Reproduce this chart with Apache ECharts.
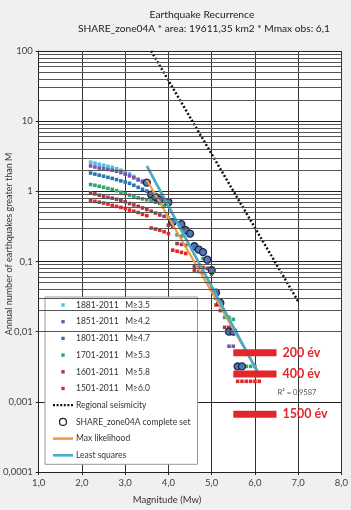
<!DOCTYPE html>
<html>
<head>
<meta charset="utf-8">
<script src="https://cdn.jsdelivr.net/npm/echarts@6/dist/echarts.min.js"></script>
<style>
  html, body { margin: 0; padding: 0; background: #f0f0f0; }
  #chart { width: 351px; height: 510px; }
</style>
</head>
<body>
<div id="chart"></div>
<script>
// magnitude / annual rate pairs
const s1881 = [[2.2,2.6],[2.3,2.52],[2.4,2.43],[2.5,2.35],[2.6,2.27],[2.7,2.2],[2.8,2.1],[2.9,2.0],[3.0,1.9],[3.1,1.78],[3.2,1.63],[3.3,1.5],[3.4,1.42]]
const s1851 = [[2.2,2.3],[2.3,2.22],[2.4,2.15],[2.5,2.1],[2.6,2.05],[2.7,2.0],[2.8,1.93],[2.9,1.85],[3.0,1.76],[3.1,1.66],[3.2,1.56],[3.3,1.45],[3.4,1.36],[4.6,0.17],[4.7,0.15],[5.4,0.0062],[5.5,0.0062]]
const s1801 = [[2.2,1.82],[2.3,1.76],[2.4,1.7],[2.5,1.64],[2.6,1.58],[2.7,1.53],[2.8,1.47],[2.9,1.41],[3.0,1.36],[3.1,1.3],[3.2,1.22],[3.3,1.14],[3.4,1.07],[3.5,1.01],[3.6,0.95],[5.4,0.0095],[5.5,0.0095]]
const s1701 = [[2.2,1.25],[2.3,1.22],[2.4,1.18],[2.5,1.14],[2.6,1.1],[2.7,1.07],[2.8,1.02],[2.9,0.97],[3.0,0.93],[3.1,0.88],[3.2,0.85],[3.3,0.81],[3.4,0.78],[3.5,0.76],[3.6,0.73],[3.7,0.7],[3.8,0.67],[3.9,0.63],[4.0,0.42],[4.1,0.39],[4.2,0.24],[4.3,0.23],[4.8,0.11],[4.9,0.105],[5.0,0.066],[5.1,0.035],[5.3,0.016],[5.4,0.016],[5.5,0.015],[5.6,0.0032],[5.7,0.0032],[5.8,0.0032],[5.9,0.0032],[6.0,0.0032]]
const s1601 = [[2.2,0.95],[2.3,0.92],[2.4,0.88],[2.5,0.85],[2.6,0.82],[2.7,0.8],[2.8,0.77],[2.9,0.74],[3.0,0.71],[3.1,0.67],[3.2,0.64],[3.3,0.61],[3.4,0.58],[3.5,0.55],[3.6,0.52],[3.7,0.49],[3.8,0.46],[3.9,0.44],[4.0,0.33],[4.1,0.31],[4.2,0.18],[4.3,0.175],[4.4,0.17],[4.6,0.085],[4.7,0.083],[4.8,0.082],[4.9,0.08],[5.0,0.041],[5.1,0.03],[5.3,0.0115],[5.4,0.0114]]
const s1501 = [[2.2,0.74],[2.3,0.72],[2.4,0.7],[2.5,0.68],[2.6,0.66],[2.7,0.63],[2.8,0.61],[2.9,0.59],[3.0,0.57],[3.1,0.54],[3.2,0.52],[3.3,0.5],[3.4,0.47],[3.5,0.45],[3.6,0.3],[3.7,0.29],[3.8,0.28],[3.9,0.265],[4.0,0.25],[4.1,0.145],[4.2,0.14],[4.3,0.135],[4.4,0.13],[4.6,0.075],[4.7,0.072],[4.8,0.07],[5.0,0.04],[5.1,0.024],[5.2,0.02],[5.4,0.0115],[5.6,0.00196],[5.7,0.00196],[5.8,0.00196],[5.9,0.00196],[6.0,0.00196],[6.1,0.00196]]
const completeSet = [[3.5,1.33],[3.6,0.9],[3.7,0.83],[3.8,0.76],[4.0,0.7],[4.1,0.365],[4.3,0.34],[4.4,0.28],[4.5,0.25],[4.6,0.165],[4.7,0.148],[4.8,0.136],[4.9,0.106],[5.0,0.075],[5.1,0.036],[5.2,0.0257],[5.4,0.01],[5.5,0.01],[5.6,0.0032],[5.7,0.0032]]
const regional = [[3.6,100],[7.0,0.027]]
const maxLikelihood = [[3.5,1.45],[6.1,0.0025]]
const leastSquares = [[3.5,2.3],[6.1,0.0024]]

const periodNames = ['1881-2011   M≥3.5','1851-2011   M≥4.2','1801-2011   M≥4.7','1701-2011   M≥5.3','1601-2011   M≥5.8','1501-2011   M≥6.0']
const periodColors = ['#4cc2e6','#7a56a8','#2e74b5','#2fa86a','#a23b48','#e02a2a']

const returnLabels = ['200 év','400 év','1500 év']
const returnLevels = [0.005, 0.0025, 0.000667]
const returnRange = [5.5, 6.5]

const yTickValues = [0.0001, 0.001, 0.01, 0.1, 1, 10, 100]
const yTickLabels = ['0,0001','0,001','0,01','0,1','1','10','100']

const FONT = 'Lato, "Open Sans", sans-serif'
const ORANGE = '#f59a45'
const TEAL = '#4bacc6'

// minor log gridlines 2..9 in each decade
const yMinor = []
for (let e = -4; e < 2; e++) {
  for (let k = 2; k <= 9; k++) yMinor.push(k * Math.pow(10, e))
}

const chart = echarts.init(document.getElementById('chart'))

// legend icons
const squareIcon = 'path://M0,0M7,7M1.8,1.8h3.4v3.4h-3.4z'
const barIcon = 'path://M0,0h20v2.6h-20z'
let dotIcon = 'path://'
for (let i = 0; i < 6; i++) dotIcon += 'M' + (i * 4) + ',0h2.2v2.5h-2.2z'

const series = [{
  type: 'line',
  data: [],
  silent: true,
  markLine: {
    silent: true,
    symbol: ['none', 'none'],
    label: { show: false },
    lineStyle: { color: '#555', width: 1, type: 'solid' },
    data: yMinor.map(v => ({ yAxis: v }))
  }
}]

const periodData = [s1881, s1851, s1801, s1701, s1601, s1501]
periodData.forEach((d, i) => {
  series.push({
    name: periodNames[i],
    type: 'scatter',
    data: d,
    symbol: 'rect',
    symbolSize: 3.6,
    itemStyle: { color: periodColors[i], opacity: 1 }
  })
})

series.push({
  name: 'Regional seismicity',
  type: 'line',
  data: regional,
  symbol: 'none',
  itemStyle: { color: '#111' },
  lineStyle: { color: '#111', width: 2.5, type: [2, 2] }
})
series.push({
  name: 'Max likelihood',
  type: 'line',
  data: maxLikelihood,
  symbol: 'none',
  itemStyle: { color: ORANGE },
  lineStyle: { color: ORANGE, width: 2.2 }
})
series.push({
  name: 'Least squares',
  type: 'line',
  data: leastSquares,
  symbol: 'none',
  itemStyle: { color: TEAL },
  lineStyle: { color: TEAL, width: 2.8 }
})
series.push({
  name: 'SHARE_zone04A complete set',
  type: 'scatter',
  data: completeSet,
  symbol: 'circle',
  symbolSize: 7,
  itemStyle: { color: '#4f78b8', borderColor: '#1b2550', borderWidth: 1.3, opacity: 1 }
})

returnLevels.forEach((v, i) => {
  series.push({
    name: returnLabels[i],
    type: 'line',
    data: [[returnRange[0], v], [returnRange[1], v]],
    symbol: 'none',
    lineStyle: { color: '#e3262b', width: 7, cap: 'butt' },
    endLabel: {
      show: true,
      formatter: returnLabels[i],
      distance: 6,
      color: '#e3262b',
      fontSize: 12.5,
      fontWeight: 'bold',
      fontFamily: FONT
    }
  })
})

chart.setOption({
  animation: false,
  backgroundColor: '#f0f0f0',
  grid: { left: 37, right: 8, top: 51, bottom: 38, show: true, backgroundColor: '#fff', borderWidth: 0 },
  xAxis: {
    type: 'value', min: 1, max: 8, interval: 1,
    axisLine: { lineStyle: { color: '#222' } },
    axisTick: { show: true, length: 3, lineStyle: { color: '#222' } },
    splitLine: { show: true, lineStyle: { color: '#333', width: 1 } },
    axisLabel: {
      margin: 6, fontSize: 9.5, color: '#404040', fontFamily: FONT,
      formatter: v => v.toFixed(1).replace('.', ',')
    }
  },
  yAxis: {
    type: 'log', logBase: 10, min: 0.0001, max: 100, splitNumber: 6,
    axisLine: { show: true, lineStyle: { color: '#222' } },
    axisTick: { show: true, length: 3, lineStyle: { color: '#222' } },
    splitLine: { show: true, lineStyle: { color: '#222', width: 1 } },
    axisLabel: {
      margin: 6, fontSize: 9.5, color: '#404040', fontFamily: FONT,
      formatter: v => {
        const i = yTickValues.findIndex(t => Math.abs(Math.log10(t) - Math.log10(v)) < 1e-6)
        return i >= 0 ? yTickLabels[i] : ''
      }
    }
  },
  legend: {
    orient: 'vertical', left: 45, top: 297,
    padding: [3, 7, 4, 8], itemGap: 6.7, itemWidth: 20, itemHeight: 7,
    backgroundColor: '#fff', borderColor: '#999', borderWidth: 1,
    textStyle: { fontSize: 8.5, color: '#333', fontFamily: FONT, lineHeight: 10, padding: [0, 0, 0, -2] },
    data: periodNames.map(n => ({ name: n, icon: squareIcon })).concat([
      { name: 'Regional seismicity', icon: dotIcon, itemStyle: { color: '#111' } },
      { name: 'SHARE_zone04A complete set', icon: 'circle', itemStyle: { color: '#fff', borderColor: '#222', borderWidth: 1.2 } },
      { name: 'Max likelihood', icon: barIcon, itemStyle: { color: ORANGE } },
      { name: 'Least squares', icon: barIcon, itemStyle: { color: TEAL } }
    ])
  },
  graphic: [
    { type: 'text', x: 202, y: 15, style: { text: 'Earthquake Recurrence', align: 'center', verticalAlign: 'middle', font: '10.3px ' + FONT, fill: '#222' } },
    { type: 'text', x: 204, y: 29, style: { text: 'SHARE_zone04A * area: 19611,35 km2 * Mmax obs: 6,1', align: 'center', verticalAlign: 'middle', font: '10.2px ' + FONT, fill: '#222' } },
    { type: 'text', x: 9, y: 244, rotation: Math.PI / 2, style: { text: 'Annual number of earthquakes greater than M', align: 'center', verticalAlign: 'middle', font: '9px ' + FONT, fill: '#333' } },
    { type: 'text', x: 167, y: 500, style: { text: 'Magnitude (Mw)', align: 'center', verticalAlign: 'middle', font: '9.5px ' + FONT, fill: '#333' } },
    { type: 'text', x: 297, y: 393, style: { text: 'R² = 0,9587', align: 'center', verticalAlign: 'middle', font: '7.5px ' + FONT, fill: '#555' } }
  ],
  series: series
})
</script>
</body>
</html>
